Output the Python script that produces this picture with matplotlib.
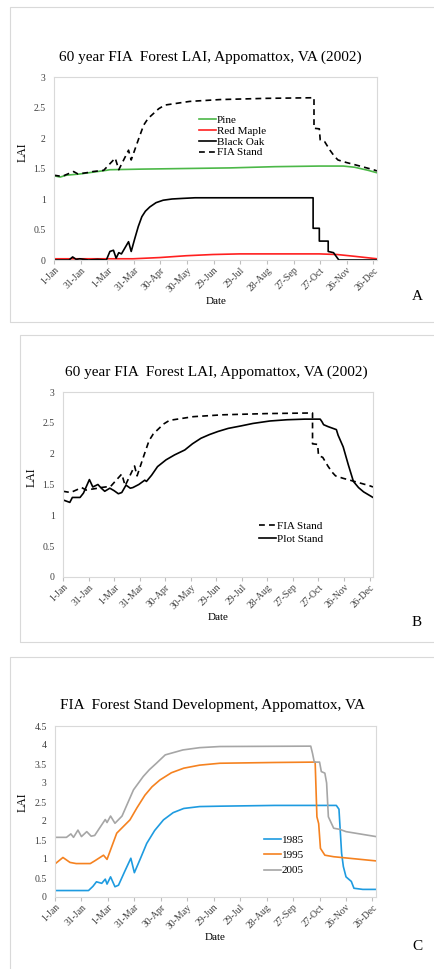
import matplotlib
matplotlib.use("Agg")
import matplotlib.pyplot as plt
from matplotlib.patches import Rectangle

plt.rcParams['font.family'] = ['Liberation Serif', 'DejaVu Serif']

# Ejes comunes
tick_days = [1, 31, 61, 91, 121, 151, 181, 211, 241, 271, 301, 331, 361]
tick_labels = ['1-Jan', '31-Jan', '1-Mar', '31-Mar', '30-Apr', '30-May', '29-Jun',
               '29-Jul', '28-Aug', '27-Sep', '27-Oct', '26-Nov', '26-Dec']

# Panel A: especies
pine_days = [1, 8, 15, 30, 45, 60, 64, 100, 150, 200, 250, 300, 327, 340, 355, 365]
pine_lai = [1.38, 1.36, 1.39, 1.41, 1.44, 1.47, 1.48, 1.49, 1.50, 1.51, 1.53, 1.54,
            1.54, 1.52, 1.47, 1.43]

maple_days = [1, 60, 90, 120, 150, 180, 210, 250, 300, 320, 340, 365]
maple_lai = [0.02, 0.02, 0.02, 0.04, 0.07, 0.09, 0.10, 0.10, 0.10, 0.09, 0.06, 0.02]

oak_days = [1, 18, 22, 26, 30, 40, 50, 60, 64, 68, 71, 74, 77, 85, 88, 92, 96, 100,
            104, 109, 116, 124, 134, 146, 160, 293, 293, 300, 300, 310, 310, 316,
            319, 322, 365]
oak_lai = [0, 0, 0.05, 0.01, 0.02, 0, 0.01, 0, 0.14, 0.16, 0.03, 0.12, 0.10, 0.30,
           0.14, 0.35, 0.55, 0.71, 0.80, 0.87, 0.94, 0.98, 1.00, 1.01, 1.02, 1.02,
           0.52, 0.52, 0.31, 0.31, 0.14, 0.12, 0.06, 0, 0]

fia_days = [1, 10, 23, 28, 42, 45, 57, 70, 74, 85, 88, 96, 102, 107, 113, 119, 126,
            140, 154, 188, 240, 294, 294, 300, 301, 306, 312, 317, 321, 330, 338,
            361, 365]
fia_lai = [1.39, 1.37, 1.45, 1.41, 1.44, 1.45, 1.47, 1.67, 1.48, 1.80, 1.64, 1.97,
           2.21, 2.32, 2.40, 2.48, 2.54, 2.57, 2.60, 2.63, 2.65, 2.66, 2.16, 2.15,
           1.97, 1.94, 1.80, 1.70, 1.64, 1.60, 1.57, 1.48, 1.46]

# Panel B: parcela
plot_days = [1, 9, 12, 21, 25, 32, 36, 42, 46, 50, 56, 61, 66, 70, 75, 80, 83, 90, 97,
             99, 105, 112, 122, 132, 144, 153, 163, 173, 183, 195, 210, 224, 244,
             264, 285, 303, 305, 307, 312, 322, 324, 330, 336, 342, 348, 354, 365]
plot_lai = [1.25, 1.21, 1.29, 1.29, 1.36, 1.58, 1.46, 1.50, 1.44, 1.39, 1.44, 1.40,
            1.35, 1.37, 1.49, 1.44, 1.45, 1.50, 1.57, 1.55, 1.65, 1.79, 1.90, 1.98,
            2.06, 2.16, 2.25, 2.31, 2.36, 2.41, 2.45, 2.49, 2.53, 2.55, 2.56, 2.56,
            2.52, 2.47, 2.44, 2.39, 2.30, 2.11, 1.82, 1.55, 1.45, 1.38, 1.29]

# Panel C: desarrollo del rodal
y1985_days = [1, 39, 44, 48, 54, 58, 60, 64, 69, 73, 80, 87, 91, 98, 105, 114, 124,
              135, 147, 165, 188, 250, 320, 323, 326, 328, 331, 337, 340, 350, 365]
y1985_lai = [0.17, 0.17, 0.28, 0.40, 0.36, 0.47, 0.34, 0.53, 0.27, 0.31, 0.67, 1.02,
             0.64, 1.02, 1.41, 1.75, 2.03, 2.22, 2.33, 2.38, 2.39, 2.41, 2.41, 2.31,
             1.15, 0.80, 0.53, 0.41, 0.23, 0.20, 0.20]

y1995_days = [1, 10, 18, 25, 41, 46, 52, 56, 60, 71, 86, 94, 103, 111, 120, 133, 147,
              165, 188, 250, 296, 298, 300, 302, 307, 317, 365]
y1995_lai = [0.87, 1.04, 0.91, 0.88, 0.88, 0.95, 1.04, 1.10, 0.99, 1.68, 2.03, 2.35,
             2.68, 2.90, 3.08, 3.27, 3.39, 3.47, 3.52, 3.54, 3.55, 2.11, 1.93, 1.28,
             1.10, 1.06, 0.95]

y2005_days = [1, 14, 19, 22, 27, 31, 37, 42, 46, 58, 60, 64, 69, 77, 90, 101, 108,
              116, 126, 146, 165, 188, 291, 293, 295, 301, 303, 307, 309, 311, 317,
              324, 331, 365]
y2005_lai = [1.57, 1.57, 1.66, 1.57, 1.76, 1.59, 1.72, 1.60, 1.62, 2.04, 1.96, 2.13,
             1.94, 2.13, 2.82, 3.17, 3.35, 3.52, 3.74, 3.87, 3.93, 3.96, 3.97, 3.78,
             3.55, 3.55, 3.30, 3.26, 3.00, 2.11, 1.81, 1.78, 1.72, 1.59]

W, H = 434, 969
fig = plt.figure(figsize=(W / 100, H / 100), dpi=100)


def fx(px):
    return px / W


def fy(py):
    return 1 - py / H


def marco(x0, y0, y1):
    fig.patches.append(Rectangle((fx(x0), fy(y1)), 2, (y1 - y0) / H,
                                 transform=fig.transFigure, fill=False,
                                 ec='#d9d9d9', lw=0.8))


def ejes(x0, x1, y_top, y_bot, ymax, yticks):
    ax = fig.add_axes([fx(x0), fy(y_bot), (x1 - x0) / W, (y_bot - y_top) / H])
    ax.set_xlim(1, 365)
    ax.set_ylim(0, ymax)
    ax.set_xticks(tick_days)
    ax.set_xticklabels(tick_labels, rotation=45, ha='right', rotation_mode='anchor')
    ax.set_yticks(yticks)
    ax.set_yticklabels(['%g' % t for t in yticks])
    for s in ax.spines.values():
        s.set_color('#d9d9d9')
        s.set_linewidth(0.8)
    ax.tick_params(axis='x', length=3, color='#bfbfbf', labelsize=7,
                   labelcolor='#404040', pad=1)
    ax.tick_params(axis='y', length=0, labelsize=7, labelcolor='#404040', pad=6)
    return ax


dash = (3.5, 2.5)

# ---------- Panel A ----------
marco(10, 7, 322)
axA = ejes(54, 377, 77, 260, 3, [0, 0.5, 1, 1.5, 2, 2.5, 3])
axA.plot(pine_days, pine_lai, color='#4cb848', lw=1.2, label='Pine')
axA.plot(maple_days, maple_lai, color='#ff2020', lw=1.2, label='Red Maple')
axA.plot(oak_days, oak_lai, color='black', lw=1.2, label='Black Oak')
axA.plot(fia_days, fia_lai, color='black', lw=1.2, dashes=dash, label='FIA Stand')
fig.legend(handles=axA.get_lines(), loc='upper left',
           bbox_to_anchor=(fx(199), fy(115)), frameon=False, fontsize=8,
           handlelength=1.5, handletextpad=0.1, labelspacing=0.1,
           borderpad=0, borderaxespad=0)
fig.text(fx(210), fy(57), '60 year FIA  Forest LAI, Appomattox, VA (2002)',
         ha='center', va='center', fontsize=11)
fig.text(fx(216), fy(302), 'Date', ha='center', va='center', fontsize=8)
fig.text(fx(23), fy(152), 'LAI', ha='center', va='center', rotation=90, fontsize=8.5)
fig.text(fx(417), fy(297), 'A', ha='center', va='center', fontsize=11)

# ---------- Panel B ----------
marco(20, 335, 642)
axB = ejes(63, 373, 392, 577, 3, [0, 0.5, 1, 1.5, 2, 2.5, 3])
axB.plot(fia_days, fia_lai, color='black', lw=1.2, dashes=dash, label='FIA Stand')
axB.plot(plot_days, plot_lai, color='black', lw=1.2, label='Plot Stand')
fig.legend(handles=axB.get_lines(), loc='upper left',
           bbox_to_anchor=(fx(259), fy(521)), frameon=False, fontsize=8,
           handlelength=1.5, handletextpad=0.1, labelspacing=0.3,
           borderpad=0, borderaxespad=0)
fig.text(fx(216), fy(372), '60 year FIA  Forest LAI, Appomattox, VA (2002)',
         ha='center', va='center', fontsize=11)
fig.text(fx(218), fy(618), 'Date', ha='center', va='center', fontsize=8)
fig.text(fx(32), fy(477), 'LAI', ha='center', va='center', rotation=90, fontsize=8.5)
fig.text(fx(417), fy(623), 'B', ha='center', va='center', fontsize=11)

# ---------- Panel C ----------
marco(10, 657, 980)
axC = ejes(55, 376, 726, 897, 4.5, [0, 0.5, 1, 1.5, 2, 2.5, 3, 3.5, 4, 4.5])
axC.plot(y1985_days, y1985_lai, color='#1e9be0', lw=1.2, label='1985')
axC.plot(y1995_days, y1995_lai, color='#f58220', lw=1.2, label='1995')
axC.plot(y2005_days, y2005_lai, color='#a6a6a6', lw=1.2, label='2005')
fig.legend(handles=axC.get_lines(), loc='upper left',
           bbox_to_anchor=(fx(264), fy(835)), frameon=False, fontsize=8,
           handlelength=1.5, handletextpad=0.1, labelspacing=0.5,
           borderpad=0, borderaxespad=0)
fig.text(fx(212), fy(706), 'FIA  Forest Stand Development, Appomattox, VA',
         ha='center', va='center', fontsize=11)
fig.text(fx(215), fy(938), 'Date', ha='center', va='center', fontsize=8)
fig.text(fx(23), fy(802), 'LAI', ha='center', va='center', rotation=90, fontsize=8.5)
fig.text(fx(417), fy(946), 'C', ha='center', va='center', fontsize=11)

fig.savefig('out.png', dpi=100)
